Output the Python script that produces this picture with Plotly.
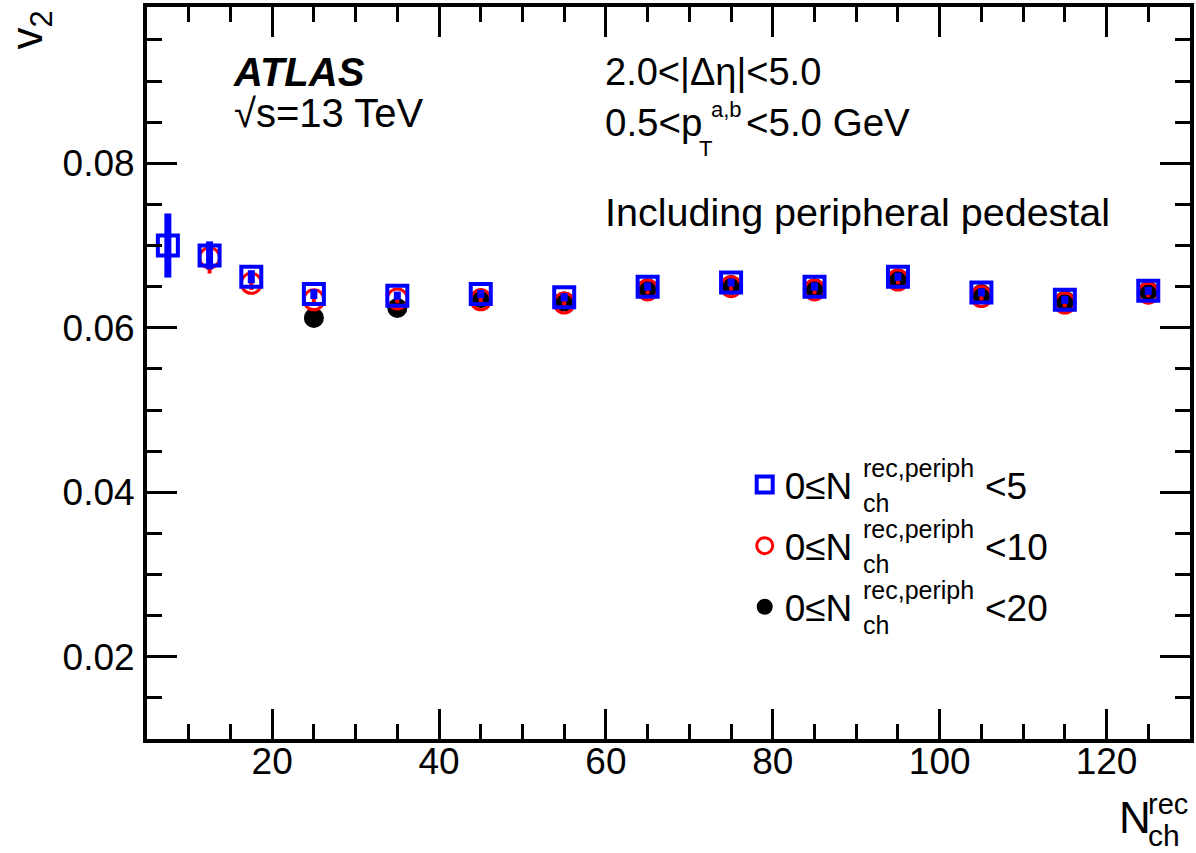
import plotly.graph_objects as go

# ---------------- data ----------------
x_blue = [7.5, 12.5, 17.5, 25, 35, 45, 55, 65, 75, 85, 95, 105, 115, 125]
v2_blue = [0.0700, 0.0688, 0.0662, 0.0641, 0.0639, 0.0641, 0.0637, 0.0650,
           0.0655, 0.0650, 0.0662, 0.0643, 0.0634, 0.0645]
err_blue = [0.0039, 0.0017, 0.0008, 0.0006, 0.0005, 0.0005, 0.0005, 0.0005,
            0.0005, 0.0005, 0.0005, 0.0005, 0.0005, 0.0005]

x_red = [12.5, 17.5, 25, 35, 45, 55, 65, 75, 85, 95, 105, 115, 125]
v2_red = [0.0685, 0.0654, 0.0634, 0.0635, 0.0634, 0.0630, 0.0646, 0.0650,
          0.0646, 0.0658, 0.0638, 0.0630, 0.0642]
err_red = [0.0019, 0.0008, 0.0006, 0.0005, 0.0005, 0.0005, 0.0005, 0.0005,
           0.0005, 0.0005, 0.0005, 0.0005, 0.0005]

x_black = [25, 35, 45, 55, 65, 75, 85, 95, 105, 115, 125]
v2_black = [0.0612, 0.0624, 0.0636, 0.0632, 0.0648, 0.0652, 0.0648, 0.0660,
            0.0641, 0.0633, 0.0645]
err_black = [0.0006, 0.0005, 0.0005, 0.0005, 0.0005, 0.0005, 0.0005, 0.0005,
             0.0005, 0.0005, 0.0005]

legend_upper = ["5", "10", "20"]
x_tick_step = 20
y_tick_step = 0.02
x_range = [5, 130]
y_range = [0.01, 0.099]

# ---------------- layout helpers ----------------
W, H = 1196, 853
PL, PR, PT, PB = 147, 1194, 7, 739
FONT = "Liberation Sans, Arial, Helvetica, sans-serif"


def xp(px):
    return (px - PL) / (PR - PL)


def yp(py):
    return (PB - py) / (PB - PT)


fig = go.Figure()

fig.add_trace(go.Scatter(
    x=x_black, y=v2_black, mode="markers", name="0≤N", legendgroup="c", legendrank=3,
    marker=dict(symbol="circle", size=20, color="black", line=dict(width=0)),
    error_y=dict(type="data", array=err_black, color="black", thickness=4, width=0),
))
fig.add_trace(go.Scatter(
    x=x_red, y=v2_red, mode="markers", name="0≤N", legendgroup="b", legendrank=2,
    marker=dict(symbol="circle-open", size=20, color="red", line=dict(width=3, color="red")),
    error_y=dict(type="data", array=err_red, color="red", thickness=4, width=0),
))
fig.add_trace(go.Scatter(
    x=x_blue, y=v2_blue, mode="markers", name="0≤N", legendgroup="a", legendrank=1,
    marker=dict(symbol="square-open", size=20, color="blue", line=dict(width=4, color="blue")),
    error_y=dict(type="data", array=err_blue, color="blue", thickness=7, width=0),
))

axis_common = dict(
    showline=True, linewidth=4, linecolor="black", mirror="allticks",
    ticks="inside", ticklen=30, tickwidth=3, tickcolor="black",
    showgrid=False, zeroline=False,
    tickfont=dict(family=FONT, size=37, color="black"),
)

fig.update_xaxes(
    range=x_range, tick0=0, dtick=x_tick_step, ticklabelstandoff=-13, **axis_common,
    minor=dict(dtick=5, tick0=0, ticks="inside", ticklen=15, tickwidth=3,
               tickcolor="black", showgrid=False),
)
fig.update_yaxes(
    range=y_range, tick0=0, dtick=y_tick_step, tickformat=".2f",
    ticklabelstandoff=1, **axis_common,
    minor=dict(dtick=0.005, tick0=0, ticks="inside", ticklen=15, tickwidth=3,
               tickcolor="black", showgrid=False),
)

annotations = []


def add_text(text, px, py, size, anchor="left", angle=0):
    annotations.append(dict(
        text=text, x=xp(px), y=yp(py), xref="paper", yref="paper",
        xanchor=anchor, yanchor="middle", showarrow=False, textangle=angle,
        font=dict(family=FONT, size=size, color="black"),
    ))


# top-left labels
add_text("<b><i>ATLAS</i></b>", 231, 71.5, 40)
add_text("√s=13 TeV", 232, 112.5, 40)
# top-right labels
add_text("2.0&lt;|Δη|&lt;5.0", 605, 71.5, 38)
add_text("0.5&lt;p", 605, 122.5, 38.5)
add_text("a,b", 711, 110, 22)
add_text("T", 699, 148, 22)
add_text("&lt;5.0 GeV", 746, 122.5, 38.5)
add_text("Including peripheral pedestal", 605, 212, 39.5)

# legend sub/superscripts and upper bounds (stacked as in the original)
for row_y, up in zip([486, 547, 608], legend_upper):
    add_text("rec,periph", 864, row_y - 18, 25)
    add_text("ch", 864, row_y + 17, 25)
    add_text("&lt;" + up, 986, row_y, 37)

# axis titles
add_text("N", 1121, 817.5, 44)
add_text("rec", 1150, 804, 29)
add_text("ch", 1150, 835, 30)
add_text("v<sub>2</sub>", 30, 30, 44, anchor="center", angle=-90)

fig.update_layout(
    width=W, height=H,
    margin=dict(l=PL, r=W - PR, t=PT, b=H - PB, pad=0),
    paper_bgcolor="white", plot_bgcolor="white",
    font=dict(family=FONT, color="black"),
    showlegend=True,
    legend=dict(
        x=xp(747), y=yp(454), xanchor="left", yanchor="top",
        traceorder="grouped", tracegroupgap=10,
        font=dict(family=FONT, size=37, color="black"),
        bgcolor="rgba(0,0,0,0)", borderwidth=0,
    ),
    annotations=annotations,
)

fig.write_html("out.html", config={"displayModeBar": False},
               post_script="document.body.style.margin='0';")
